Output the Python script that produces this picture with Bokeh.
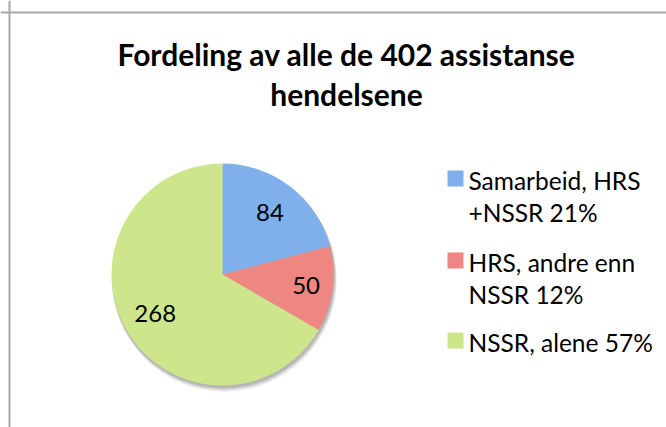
import math
from bokeh.plotting import figure
from bokeh.models import Range1d, Span, ColumnDataSource
from bokeh.core.properties import value
from bokeh.embed import file_html
from bokeh.resources import INLINE

title_lines = ["Fordeling av alle de 402 assistanse", "hendelsene"]
categories = ["Samarbeid, HRS +NSSR", "HRS, andre enn NSSR", "NSSR, alene"]
counts = [84, 50, 268]
pct_labels = ["21%", "12%", "57%"]
legend_lines = [["Samarbeid, HRS", "+NSSR 21%"], ["HRS, andre enn", "NSSR 12%"], ["NSSR, alene 57%"]]
colors = ["#7fb0ec", "#ee8681", "#cde68c"]

W, H = 666, 427
FONT = "Lato"

p = figure(width=W, height=H, output_backend="svg", toolbar_location=None,
           x_range=Range1d(0, W), y_range=Range1d(0, H), min_border=0)
p.axis.visible = False
p.grid.visible = False
p.outline_line_color = None
p.background_fill_color = "white"
p.border_fill_color = "white"

def sy(y):  # window y -> data y
    return H - y

def sx(x):
    return x

# frame (top and left visible)
p.add_layout(Span(location=sy(12), dimension="width", line_color="#a8a8a8", line_width=2))
p.add_layout(Span(location=sx(9), dimension="height", line_color="#a8a8a8", line_width=2))

# title
for i, t in enumerate(title_lines):
    p.text(x=[sx(346)], y=[sy(53 + 40 * i)], text=[t], text_font=value(FONT),
           text_font_style="bold", text_font_size="30px", text_align="center",
           text_baseline="alphabetic", text_color="black")

# pie
cx, cy, r = sx(222), sy(274), 111
total = sum(counts)
starts, ends, mids = [], [], []
acc = 0
for c in counts:
    a0 = math.pi / 2 - 2 * math.pi * acc / total
    acc += c
    a1 = math.pi / 2 - 2 * math.pi * acc / total
    starts.append(a0)
    ends.append(a1)
    mids.append((a0 + a1) / 2)

# soft shadow
for off, al in [(5, 0.05), (4, 0.07), (3, 0.09), (2, 0.1)]:
    p.circle(x=[cx + off * 0.4], y=[cy - off], radius=r + off * 0.3, fill_color="#000000",
             fill_alpha=al, line_color=None)

src = ColumnDataSource(dict(start=starts, end=ends, color=colors))
p.wedge(x=cx, y=cy, radius=r, start_angle="start", end_angle="end", direction="clock",
        fill_color="color", line_color=None, source=src)

lab_r = [0.70, 0.76, 0.70]
for c, m, f in zip(counts, mids, lab_r):
    p.text(x=[cx + f * r * math.cos(m)], y=[cy + f * r * math.sin(m)], text=[str(c)],
           text_font=value(FONT), text_font_size="24px", text_align="center",
           text_baseline="middle", text_color="black")

# legend
entry_base = [188, 270, 350]
for lines, base, col in zip(legend_lines, entry_base, colors):
    p.rect(x=[sx(455)], y=[sy(base - 10)], width=16, height=16, fill_color=col,
           line_color=None)
    for j, ln in enumerate(lines):
        p.text(x=[sx(468)], y=[sy(base - 8 + 32 * j)], text=[ln], text_font=value(FONT),
               text_font_size="24.5px", text_align="left", text_baseline="alphabetic",
               text_color="black")

open("out.html", "w").write(file_html(p, INLINE))
